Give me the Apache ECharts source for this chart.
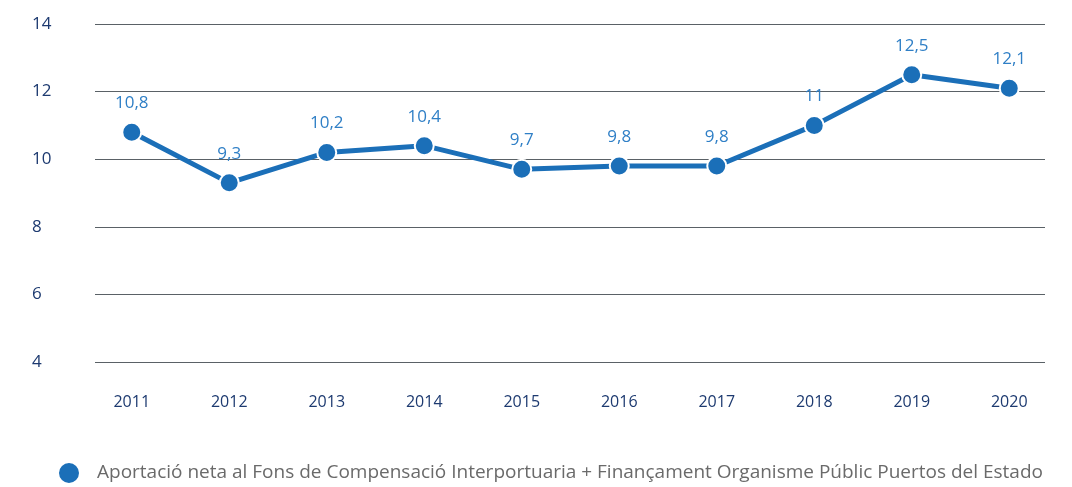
<!DOCTYPE html>
<html>
<head>
<meta charset="utf-8">
<script src="https://cdn.jsdelivr.net/npm/echarts@6/dist/echarts.min.js"></script>
<style>
  html, body { margin: 0; padding: 0; background: #fff; }
  #chart { width: 1072px; height: 487px; }
</style>
</head>
<body>
<div id="chart"></div>
<script>
const years = ['2011', '2012', '2013', '2014', '2015', '2016', '2017', '2018', '2019', '2020'];
const values = [10.8, 9.3, 10.2, 10.4, 9.7, 9.8, 9.8, 11, 12.5, 12.1];
const seriesName = 'Aportació neta al Fons de Compensació Interportuaria + Finançament Organisme Públic Puertos del Estado';
const yMin = 4, yMax = 14, yStep = 2;

const FONT = '"Open Sans", sans-serif';
const NAVY = '#1d3a70';
const BLUE = '#1b6fb8';

const chart = echarts.init(document.getElementById('chart'), null, { renderer: 'canvas' });

const fmt = v => String(v).replace('.', ',');

chart.setOption({
  animation: false,
  textStyle: { fontFamily: FONT },
  grid: [
    // gridlines and value labels
    { left: 95, right: 27, top: 24, bottom: 125 },
    // plotting area for the category positions
    { left: 83, right: 14, top: 24, bottom: 125 }
  ],
  legend: {
    left: 52, top: 456,
    padding: 5,
    icon: 'circle',
    itemWidth: 22, itemHeight: 22,
    textStyle: { fontFamily: FONT, fontSize: 19, color: '#6a6a6a', padding: [0, 0, 0, 12] },
    data: [seriesName]
  },
  xAxis: [
    { gridIndex: 0, type: 'category', data: years, show: false },
    {
      gridIndex: 1, type: 'category', data: years, boundaryGap: true,
      axisLine: { show: false }, axisTick: { show: false },
      axisLabel: { color: NAVY, fontSize: 16, margin: 32, fontFamily: FONT }
    }
  ],
  yAxis: [
    {
      gridIndex: 0, type: 'value', min: yMin, max: yMax, interval: yStep,
      axisLine: { show: false }, axisTick: { show: false },
      axisLabel: { color: NAVY, fontSize: 17, align: 'left', margin: 63, fontFamily: FONT },
      splitLine: { lineStyle: { color: '#5a6166', width: 1 } }
    },
    {
      gridIndex: 1, type: 'value', min: yMin, max: yMax, interval: yStep,
      show: false, splitLine: { show: false }
    }
  ],
  series: [{
    name: seriesName,
    type: 'line',
    xAxisIndex: 1, yAxisIndex: 1,
    data: values,
    color: BLUE,
    symbol: 'circle',
    symbolSize: 19,
    lineStyle: { color: BLUE, width: 5 },
    itemStyle: { color: BLUE, borderColor: '#fff', borderWidth: 2 },
    label: {
      show: true, position: 'top', distance: 10,
      color: '#2f7fc6', fontSize: 17, fontFamily: FONT,
      formatter: p => fmt(p.value)
    }
  }]
});
</script>
</body>
</html>
